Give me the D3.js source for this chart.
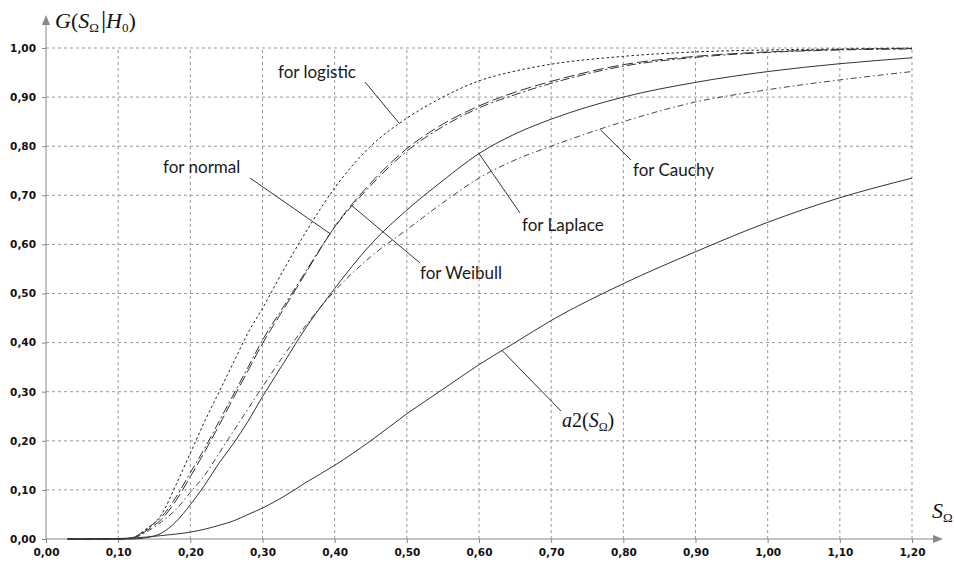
<!DOCTYPE html>
<html>
<head>
<meta charset="utf-8">
<script src="https://cdn.jsdelivr.net/npm/d3@7"></script>
<style>
  body { margin: 0; background: #fff; }
  svg { display: block; }
  .tick text { font-family: "DejaVu Sans", Tahoma, sans-serif; font-weight: bold; font-size: 10.5px; fill: #111; }
  .note { font-family: Lato, "Noto Sans", sans-serif; font-size: 17px; fill: #1a1a1a; }
  .math { font-family: "Liberation Serif", "DejaVu Serif", serif; fill: #111; }
</style>
</head>
<body>
<svg id="chart" width="954" height="564"></svg>
<script>
const sVals = [0.03, 0.10, 0.12, 0.14, 0.16, 0.18, 0.20, 0.22, 0.24, 0.26, 0.28, 0.30, 0.33, 0.36,
               0.40, 0.45, 0.50, 0.55, 0.60, 0.65, 0.70, 0.80, 0.90, 1.00, 1.10, 1.20];

const logisticVals = [0, 0, 0.003, 0.02, 0.05, 0.11, 0.175, 0.24, 0.30, 0.36, 0.42, 0.47, 0.55, 0.625,
                      0.715, 0.80, 0.857, 0.90, 0.933, 0.953, 0.967, 0.983, 0.992, 0.996, 0.998, 1.0];
const normalVals = [0, 0, 0.003, 0.022, 0.045, 0.085, 0.135, 0.185, 0.24, 0.295, 0.35, 0.405, 0.475, 0.545,
                    0.635, 0.72, 0.79, 0.84, 0.878, 0.905, 0.928, 0.963, 0.981, 0.991, 0.996, 0.998];
const weibullVals = [0, 0, 0.002, 0.018, 0.04, 0.078, 0.127, 0.178, 0.232, 0.288, 0.343, 0.398, 0.47, 0.542,
                     0.636, 0.725, 0.795, 0.845, 0.882, 0.91, 0.932, 0.966, 0.983, 0.992, 0.997, 0.999];
const cauchyVals = [0, 0, 0.002, 0.015, 0.035, 0.06, 0.095, 0.13, 0.175, 0.22, 0.265, 0.31, 0.375, 0.435,
                    0.505, 0.575, 0.63, 0.685, 0.735, 0.772, 0.80, 0.85, 0.89, 0.915, 0.935, 0.952];
const laplaceVals = [0, 0, 0, 0.003, 0.012, 0.035, 0.07, 0.11, 0.155, 0.195, 0.24, 0.29, 0.36, 0.43,
                     0.51, 0.60, 0.67, 0.73, 0.785, 0.825, 0.855, 0.90, 0.93, 0.952, 0.968, 0.98];
const a2Vals = [0, 0.001, 0.002, 0.004, 0.007, 0.01, 0.014, 0.02, 0.028, 0.037, 0.05, 0.063, 0.087, 0.115,
                0.15, 0.20, 0.255, 0.305, 0.355, 0.40, 0.445, 0.52, 0.585, 0.645, 0.695, 0.735];

const xTicks = d3.range(0, 13).map(i => i / 10);
const yTicks = d3.range(0, 11).map(i => i / 10);

const svg = d3.select("#chart");
const x = d3.scaleLinear().domain([0, 1.2]).range([46, 912]);
const y = d3.scaleLinear().domain([0, 1]).range([539, 48]);
const fmt = d => d3.format(".2f")(d).replace(".", ",");

// grid
svg.append("g").selectAll("line").data(xTicks.slice(1)).join("line")
  .attr("x1", d => x(d)).attr("x2", d => x(d)).attr("y1", y(0)).attr("y2", y(1))
  .attr("stroke", "#999").attr("stroke-dasharray", "3,3");
svg.append("g").selectAll("line").data(yTicks.slice(1)).join("line")
  .attr("x1", x(0)).attr("x2", x(1.2)).attr("y1", d => y(d)).attr("y2", d => y(d))
  .attr("stroke", "#999").attr("stroke-dasharray", "3,3");

// axes
const xAxis = svg.append("g").attr("transform", `translate(0,${y(0)})`)
  .call(d3.axisBottom(x).tickValues(xTicks).tickFormat(fmt).tickSize(4).tickPadding(6));
const yAxis = svg.append("g").attr("transform", `translate(${x(0)},0)`)
  .call(d3.axisLeft(y).tickValues(yTicks).tickFormat(fmt).tickSize(4).tickPadding(6));
[xAxis, yAxis].forEach(a => {
  a.select(".domain").remove();
  a.selectAll(".tick line").attr("stroke", "#888");
});
svg.append("line").attr("x1", x(0)).attr("x2", 936).attr("y1", y(0)).attr("y2", y(0)).attr("stroke", "#888");
svg.append("path").attr("d", `M943,${y(0)} L933,${y(0) - 4} L933,${y(0) + 4} Z`).attr("fill", "#888");
svg.append("line").attr("x1", x(0)).attr("x2", x(0)).attr("y1", y(0)).attr("y2", 24).attr("stroke", "#888");
svg.append("path").attr("d", `M${x(0)},15 L${x(0) - 4},25 L${x(0) + 4},25 Z`).attr("fill", "#888");

// curves
const series = [
  { name: "logistic", vals: logisticVals, dash: "2.5,2.5", color: "#222" },
  { name: "normal", vals: normalVals, dash: "9,3,2,3", color: "#333" },
  { name: "Weibull", vals: weibullVals, dash: "11,4", color: "#333" },
  { name: "Cauchy", vals: cauchyVals, dash: "6,3,1.5,3", color: "#444" },
  { name: "Laplace", vals: laplaceVals, dash: null, color: "#333" },
  { name: "a2", vals: a2Vals, dash: null, color: "#333" }
];
const line = d3.line().x(d => x(d[0])).y(d => y(d[1])).curve(d3.curveMonotoneX);
svg.append("g").selectAll("path").data(series).join("path")
  .attr("d", s => line(sVals.map((v, i) => [v, s.vals[i]])))
  .attr("fill", "none").attr("stroke", s => s.color).attr("stroke-width", 1)
  .attr("stroke-dasharray", s => s.dash);

// pointer annotations: anchor on curve at S, label position
const valAt = (vals, s) => d3.scaleLinear().domain(sVals).range(vals)(s);
const notes = [
  { text: "for logistic", vals: logisticVals, s: 0.49, lx: 278, ly: 78, px: 365, py: 82 },
  { text: "for normal", vals: normalVals, s: 0.394, lx: 163, ly: 173, px: 250, py: 178 },
  { text: "for Weibull", vals: weibullVals, s: 0.424, lx: 420, ly: 279, px: 420, py: 263 },
  { text: "for Laplace", vals: laplaceVals, s: 0.6, lx: 522, ly: 231, px: 520, py: 213 },
  { text: "for Cauchy", vals: cauchyVals, s: 0.768, lx: 633, ly: 176, px: 631, py: 160 }
];
notes.forEach(n => {
  svg.append("line").attr("x1", x(n.s)).attr("y1", y(valAt(n.vals, n.s)))
    .attr("x2", n.px).attr("y2", n.py).attr("stroke", "#333").attr("stroke-width", 1);
  svg.append("text").attr("class", "note").attr("x", n.lx).attr("y", n.ly).text(n.text);
});

// a2 label
svg.append("line").attr("x1", x(0.632)).attr("y1", y(valAt(a2Vals, 0.632)))
  .attr("x2", 561).attr("y2", 411).attr("stroke", "#333");
const a2t = svg.append("text").attr("class", "math").attr("x", 562).attr("y", 427).attr("font-size", 20);
a2t.append("tspan").attr("font-style", "italic").text("a");
a2t.append("tspan").text("2(");
a2t.append("tspan").attr("font-style", "italic").text("S");
a2t.append("tspan").attr("font-size", 12).attr("dy", 4).text("Ω");
a2t.append("tspan").attr("dy", -4).text(")");

// axis titles
const gt = svg.append("text").attr("class", "math").attr("x", 55).attr("y", 28).attr("font-size", 22);
gt.append("tspan").attr("font-style", "italic").text("G");
gt.append("tspan").text("(");
gt.append("tspan").attr("font-style", "italic").text("S");
gt.append("tspan").attr("font-size", 13).attr("dy", 4).text("Ω");
gt.append("tspan").attr("dy", -4).attr("dx", 2).attr("font-size", 26).attr("font-weight", "lighter").text("|");
gt.append("tspan").attr("font-style", "italic").text("H");
gt.append("tspan").attr("font-size", 13).attr("dy", 4).text("0");
gt.append("tspan").attr("dy", -4).text(")");

const st = svg.append("text").attr("class", "math").attr("x", 932).attr("y", 518).attr("font-size", 22);
st.append("tspan").attr("font-style", "italic").text("S");
st.append("tspan").attr("font-size", 13).attr("dy", 4).text("Ω");
</script>
</body>
</html>
